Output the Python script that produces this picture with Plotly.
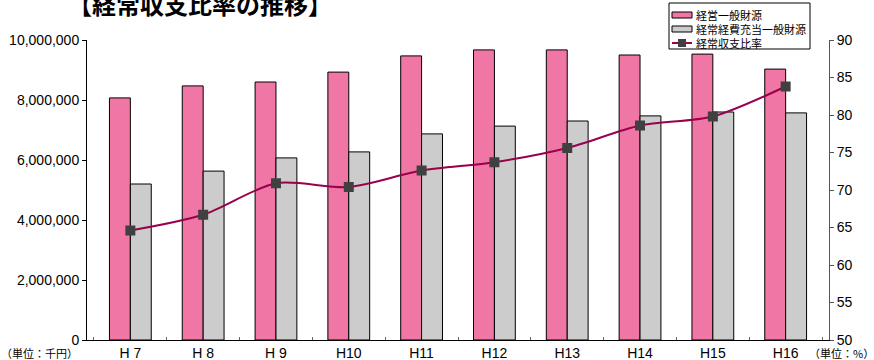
import plotly.graph_objects as go

categories = ["H 7", "H 8", "H 9", "H10", "H11", "H12", "H13", "H14", "H15", "H16"]
general_revenue = [8070000, 8470000, 8600000, 8930000, 9470000, 9670000, 9670000, 9500000, 9530000, 9030000]
recurring_alloc = [5200000, 5630000, 6070000, 6270000, 6870000, 7130000, 7300000, 7470000, 7600000, 7570000]
ratio = [64.6, 66.7, 70.9, 70.4, 72.6, 73.7, 75.6, 78.6, 79.8, 83.8]

names = ["経営一般財源", "経常経費充当一般財源", "経常収支比率"]
pink = "#F077A5"
grey = "#CCCCCC"
line_col = "#99004D"
mark_col = "#404040"

W, H = 874, 360
L, R, T, B = 87, 829, 40, 340

fig = go.Figure()
fig.add_trace(go.Bar(x=categories, y=general_revenue, name=names[0],
                     marker=dict(color=pink, line=dict(color="#000000", width=1)), yaxis="y"))
fig.add_trace(go.Bar(x=categories, y=recurring_alloc, name=names[1],
                     marker=dict(color=grey, line=dict(color="#000000", width=1)), yaxis="y"))
fig.add_trace(go.Scatter(x=categories, y=ratio, name=names[2], mode="lines+markers",
                         line=dict(color=line_col, width=2, shape="spline", smoothing=0.8),
                         marker=dict(symbol="square", size=10, color=mark_col),
                         yaxis="y2"))

font_num = "Liberation Sans, Arial, sans-serif"
font_jp = "Noto Sans CJK JP, sans-serif"

fig.update_layout(
    width=W, height=H,
    margin=dict(l=L, r=W - R, t=T, b=H - B, autoexpand=False),
    paper_bgcolor="white", plot_bgcolor="white",
    showlegend=False,
    barmode="group", bargap=0.426, bargroupgap=0,
    xaxis=dict(showline=True, linecolor="#000000", linewidth=1, automargin=False,
               ticks="inside", tickson="boundaries", ticklen=3, tickcolor="#666666",
               tickfont=dict(family=font_num, size=14, color="#000000"),
               showgrid=False, zeroline=False),
    yaxis=dict(range=[0, 10000000], dtick=2000000, tickformat=",d", automargin=False,
               showline=True, linecolor="#000000", linewidth=1,
               ticks="outside", ticklen=4, tickcolor="#000000",
               tickfont=dict(family=font_num, size=14, color="#000000"),
               showgrid=False, zeroline=False),
    yaxis2=dict(range=[50, 90], dtick=5, overlaying="y", side="right", automargin=False,
                showline=True, linecolor="#555555", linewidth=1,
                ticks="outside", ticklen=4, tickcolor="#555555",
                tickfont=dict(family=font_num, size=14, color="#000000"),
                showgrid=False, zeroline=False),
)

def ax(p):
    return (p - L) / (R - L)

def ay(p):
    return (B - p) / (B - T)

# Title
fig.add_annotation(xref="paper", yref="paper", x=ax(200), y=ay(4),
                   text="<b>【経常収支比率の推移】</b>", showarrow=False,
                   xanchor="center", yanchor="middle", borderpad=0,
                   font=dict(family=font_jp, size=24, color="#000000"))

# Units
fig.add_annotation(xref="paper", yref="paper", x=ax(0), y=ay(353),
                   text="（単位：千円）", showarrow=False, xanchor="left", yanchor="middle",
                   borderpad=0, font=dict(family=font_jp, size=11, color="#000000"))
fig.add_annotation(xref="paper", yref="paper", x=ax(808), y=ay(353),
                   text="（単位：%）", showarrow=False, xanchor="left", yanchor="middle",
                   borderpad=0, font=dict(family=font_jp, size=11, color="#000000"))

# Custom legend box
fig.add_shape(type="rect", xref="paper", yref="paper", x0=ax(669), x1=ax(810), y0=ay(49), y1=ay(3),
              line=dict(color="#000000", width=1), fillcolor="white", layer="above")
rows_y = [15, 29, 43]
fills = [pink, grey]
for i in range(2):
    fig.add_shape(type="rect", xref="paper", yref="paper", x0=ax(672), x1=ax(692),
                  y0=ay(rows_y[i] + 3), y1=ay(rows_y[i] - 3),
                  line=dict(color="#000000", width=1), fillcolor=fills[i], layer="above")
fig.add_shape(type="line", xref="paper", yref="paper", x0=ax(672), x1=ax(692),
              y0=ay(rows_y[2]), y1=ay(rows_y[2]), line=dict(color=line_col, width=2), layer="above")
fig.add_shape(type="rect", xref="paper", yref="paper", x0=ax(678), x1=ax(686),
              y0=ay(rows_y[2] + 4), y1=ay(rows_y[2] - 4),
              line=dict(color=mark_col, width=0), fillcolor=mark_col, layer="above")
for i, nm in enumerate(names):
    fig.add_annotation(xref="paper", yref="paper", x=ax(695), y=ay(rows_y[i]),
                       text=nm, showarrow=False, xanchor="left", yanchor="middle",
                       borderpad=0, font=dict(family=font_jp, size=11, color="#000000"))

fig.write_html("out.html")
